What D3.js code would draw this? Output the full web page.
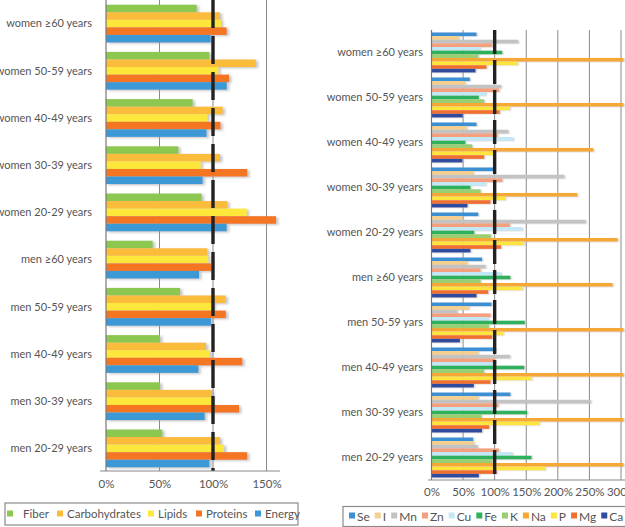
<!DOCTYPE html>
<html><head><meta charset="utf-8">
<script src="https://cdn.jsdelivr.net/npm/d3@7"></script>
<style>
body{margin:0;background:#fff;}
svg{display:block;font-family:Lato, "Open Sans", sans-serif;}
</style>
</head><body>
<svg id="c" width="625" height="527"></svg>
<script>
// ---------- data ----------
const categoriesLeft = ["women ≥60 years","women 50-59 years","women 40-49 years","women 30-39 years","women 20-29 years","men ≥60 years","men 50-59 years","men 40-49 years","men 30-39 years","men 20-29 years"];
const categoriesRight = ["women ≥60 years","women 50-59 years","women 40-49 years","women 30-39 years","women 20-29 years","men ≥60 years","men 50-59 yars","men 40-49 years","men 30-39 years","men 20-29 years"];

const macroSeries = ["Fiber","Carbohydrates","Lipids","Proteins","Energy"];
const macroColors = ["#8cc84f","#fbbb3b","#fde73a","#f47521","#3c98d6"];
const fiber         = [84.7, 96.6, 81.0, 67.6, 89.4, 43.6, 69.2, 50.5, 50.5, 52.6];
const carbohydrates = [106.5,140.0,109.0,106.5,113.4, 94.7,111.9, 93.5, 99.0,106.5];
const lipids        = [107.5,105.0, 94.7, 88.5,131.5, 95.6,100.3, 97.2, 99.0,110.3];
const proteins      = [112.8,115.0,107.0,132.0,158.9, 98.1,112.0,127.4,124.3,132.0];
const energy        = [97.8, 112.8, 94.0, 90.3,112.8, 86.9, 98.1, 86.3, 92.2, 96.6];
const macroValues = [fiber, carbohydrates, lipids, proteins, energy];

const microSeries = ["Se","I","Mn","Zn","Cu","Fe","K","Na","P","Mg","Ca"];
const microColors = ["#3b90d3","#f6cf8c","#c3c3c3","#f4a07f","#c3e7f6","#2fb15b","#97cf72","#f5a834","#fde53c","#f2702e","#2e4b9f"];
const Se = [71.3, 60.7, 71.3, 97.7, 74.0, 80.0, 95.0,101.4,125.0, 66.0];
const I  = [43.3, 52.8, 55.4, 66.0, 49.0, 56.5, 59.0, 74.0, 74.0, 67.0];
const Mn = [137.0,110.0,121.4,210.0,244.0, 85.5, 40.7,124.0,252.0, 73.0];
const Zn = [96.0,106.7,104.5,112.0,124.0, 77.6, 93.5,100.0,105.6,106.7];
const Cu = [76.6, 85.5,129.0, 85.5,143.6,110.0, 89.8,100.0, 98.0,127.8];
const Fe = [112.0,75.0, 53.6, 61.8, 67.6,125.0,147.8,146.8,151.5,158.4];
const K  = [74.0, 83.4, 64.4, 77.6, 94.0, 77.6, 90.8, 83.0, 79.0, 96.0];
const Na = [304, 304, 256.0,230.7,294.6,286.7, 304, 304, 304, 304];
const P  = [136.0,124.0, 97.7,117.0,146.0,144.0,113.5,158.4,170.5,179.5];
const Mg = [87.0,108.0, 83.4, 93.5,110.0, 89.8, 96.0, 93.5, 91.3,103.0];
const Ca = [69.7, 49.6, 49.0, 57.0, 61.8, 71.3, 45.0, 67.0, 80.0, 75.0];
const microValues = [Se, I, Mn, Zn, Cu, Fe, K, Na, P, Mg, Ca];

const ticksLeft = [0, 50, 100, 150];
const ticksRight = [0, 50, 100, 150, 200, 250, 300];

// ---------- drawing ----------
const svg = d3.select("#c");
const TXT = "#555";
const FS = "11px";
const defs = svg.append("defs");
defs.append("filter").attr("id","sh").attr("x","-5%").attr("y","-40%").attr("width","120%").attr("height","200%")
  .append("feDropShadow").attr("dx",2.5).attr("dy",1.2).attr("stdDeviation",0.9)
  .attr("flood-color","#9a9a9a").attr("flood-opacity",0.55);
defs.append("filter").attr("id","sh2").attr("x","-5%").attr("y","-40%").attr("width","120%").attr("height","200%")
  .append("feDropShadow").attr("dx",1.5).attr("dy",0.6).attr("stdDeviation",0.6)
  .attr("flood-color","#aaa").attr("flood-opacity",0.45);

function panel(opt){
  const {cats, series, colors, values, x, yRange, ticks, axisY, axisX0, axisX1, labelX, dash, filter, innerPad, outerPad, tickPad} = opt;
  const g = svg.append("g");
  const y0 = d3.scaleBand().domain(cats).range(yRange).paddingInner(innerPad).paddingOuter(outerPad);
  const y1 = d3.scaleBand().domain(series).range([0, y0.bandwidth()]);
  const top = yRange[0], bot = axisY;

  g.append("g").selectAll("line").data(ticks.filter(t=>t>0)).join("line")
    .attr("x1",d=>x(d)).attr("x2",d=>x(d)).attr("y1",top).attr("y2",bot)
    .attr("stroke","#8a8a8a").attr("stroke-width",1);

  const rows = [];
  cats.forEach((c,ci)=>series.forEach((s,si)=>rows.push({c, s, v: values[si][ci], col: colors[si]})));
  g.append("g").attr("filter",`url(#${filter})`).selectAll("rect").data(rows).join("rect")
    .attr("x", x(0)).attr("y", d=>y0(d.c)+y1(d.s))
    .attr("width", d=>x(d.v)-x(0)).attr("height", y1.bandwidth())
    .attr("fill", d=>d.col);

  g.append("line").attr("x1",x(100)).attr("x2",x(100)).attr("y1",top).attr("y2",bot)
    .attr("stroke","#222").attr("stroke-width",3.4).attr("stroke-dasharray",dash);

  g.append("line").attr("x1",x(0)).attr("x2",x(0)).attr("y1",top).attr("y2",bot).attr("stroke","#777").attr("stroke-width",1.2);
  g.append("line").attr("x1",axisX0).attr("x2",axisX1).attr("y1",bot).attr("y2",bot).attr("stroke","#888").attr("stroke-width",1);

  const ax = g.append("g").attr("transform",`translate(0,${bot})`)
    .call(d3.axisBottom(x).tickValues(ticks).tickFormat(d=>d+"%").tickSize(0).tickPadding(tickPad));
  ax.select(".domain").remove();
  ax.selectAll("text").attr("fill",TXT).style("font-size","11.5px").style("font-family","Lato, sans-serif");

  g.append("g").selectAll("text").data(cats).join("text")
    .attr("x", labelX).attr("y", d=>y0(d)+y0.bandwidth()/2).attr("dy","0.35em")
    .attr("text-anchor","end").attr("fill",TXT).style("font-size",FS)
    .text(d=>d);
}

panel({cats:categoriesLeft, series:macroSeries, colors:macroColors, values:macroValues,
  x:d3.scaleLinear().domain([0,150]).range([106,266.5]), yRange:[0,472], ticks:ticksLeft,
  axisY:471, axisX0:100, axisX1:280, labelX:92, dash:"28,8", filter:"sh", innerPad:0.2, outerPad:0.1, tickPad:9});

panel({cats:categoriesRight, series:microSeries, colors:microColors, values:microValues,
  x:d3.scaleLinear().domain([0,300]).range([431.5,621]), yRange:[30,480], ticks:ticksRight,
  axisY:480, axisX0:428, axisX1:625, labelX:423, dash:"24,6", filter:"sh2", innerPad:0.111, outerPad:0.055, tickPad:8});

// ---------- legends ----------
// left legend: item anchor positions read off the reference layout
const legendLeftX = [7, 57, 148, 196, 255];
(function(){
  const g = svg.append("g");
  g.append("rect").attr("x",5).attr("y",503).attr("width",293).attr("height",22)
    .attr("fill","#fff").attr("stroke","#8a8a8a").attr("stroke-width",1.2);
  macroSeries.forEach((n,i)=>{
    const cx = legendLeftX[i];
    g.append("rect").attr("x",cx).attr("y",510.5).attr("width",6).attr("height",6).attr("fill",macroColors[i]);
    g.append("text").attr("x",cx + (i===0?16:10)).attr("y",514).attr("dy","0.35em")
      .attr("fill",TXT).style("font-size","11.5px").text(n);
  });
})();

(function(){
  const g = svg.append("g");
  g.append("rect").attr("x",343).attr("y",506.5).attr("width",300).attr("height",20)
    .attr("fill","#fff").attr("stroke","#8a8a8a").attr("stroke-width",1.2);
  let cx = 349;
  microSeries.forEach((n,i)=>{
    g.append("rect").attr("x",cx).attr("y",512.5).attr("width",6).attr("height",6).attr("fill",microColors[i]);
    const t = g.append("text").attr("x",cx+8).attr("y",516.5).attr("dy","0.35em")
      .attr("fill",TXT).style("font-size","12px").text(n);
    cx = cx + 8 + t.node().getComputedTextLength() + 5;
  });
})();
</script>
</body></html>
